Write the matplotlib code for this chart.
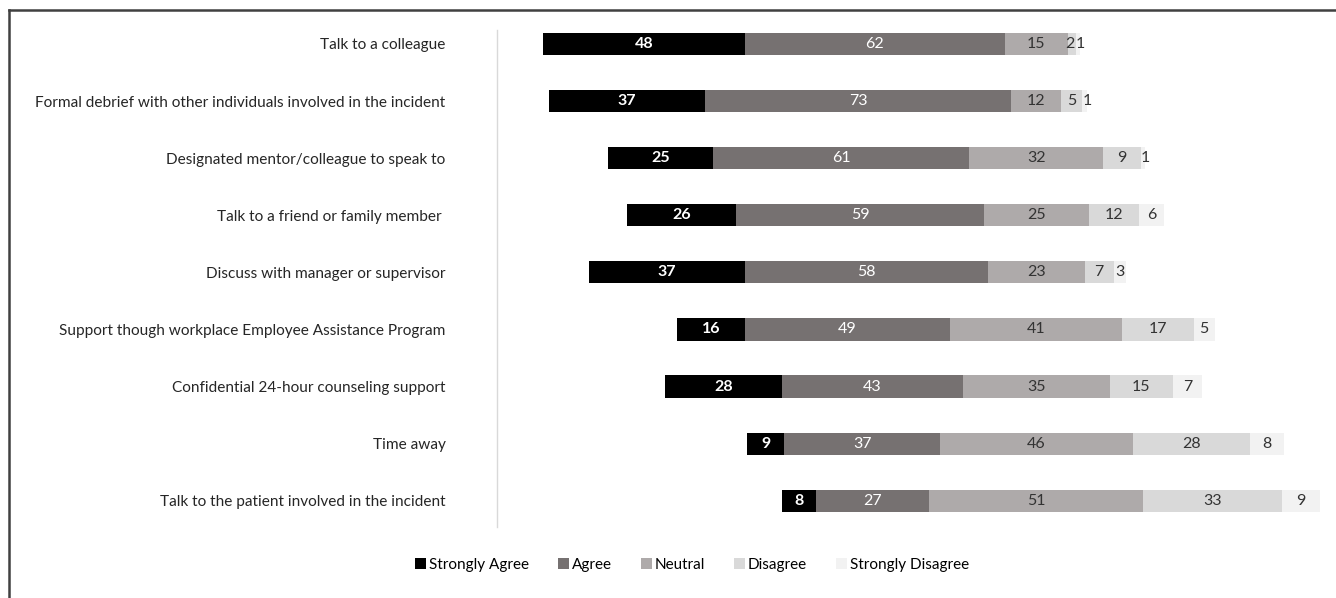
import matplotlib

matplotlib.use("Agg")
import matplotlib.pyplot as plt
from matplotlib.lines import Line2D
import numpy as np

categories = [
    "Talk to a colleague",
    "Formal debrief with other individuals involved in the incident",
    "Designated mentor/colleague to speak to",
    "Talk to a friend or family member ",
    "Discuss with manager or supervisor",
    "Support though workplace Employee Assistance Program",
    "Confidential 24-hour counseling support",
    "Time away",
    "Talk to the patient involved in the incident",
]
strongly_agree = [48, 37, 25, 26, 37, 16, 28, 9, 8]
agree = [62, 73, 61, 59, 58, 49, 43, 37, 27]
neutral = [15, 12, 32, 25, 23, 41, 35, 46, 51]
disagree = [2, 5, 9, 12, 7, 17, 15, 28, 33]
strongly_disagree = [1, 1, 1, 6, 3, 5, 7, 8, 9]

series = [
    ("Strongly Agree", strongly_agree, "#000000", "white"),
    ("Agree", agree, "#767171", "white"),
    ("Neutral", neutral, "#aeaaaa", "#333333"),
    ("Disagree", disagree, "#d9d9d9", "#333333"),
    ("Strongly Disagree", strongly_disagree, "#f2f2f2", "#333333"),
]

plt.rcParams["font.family"] = ["Lato", "DejaVu Sans"]

fig = plt.figure(figsize=(13.36, 5.98), dpi=100)
ax = fig.add_axes([497 / 1336, 71 / 598, (1330 - 497) / 1336, 497 / 598])

y = np.arange(len(categories))
# diverging layout: centre of the neutral segment sits at zero
left = -(np.array(strongly_agree) + np.array(agree) + np.array(neutral) / 2.0)
for si, (name, vals, color, tcolor) in enumerate(series):
    vals = np.array(vals, dtype=float)
    ax.barh(y, vals, left=left, height=0.39, color=color, label=name, edgecolor="none")
    for yi, (l, v) in enumerate(zip(left, vals)):
        xpos = l + v / 2
        # tiny neighbouring segments: nudge labels apart a little
        if v < 3 and si == 3:
            xpos -= 0.5
        elif v < 3 and si == 4:
            xpos += 0.6
        ax.text(xpos, yi, f"{int(v)}", ha="center", va="center",
                color=tcolor, fontsize=11.5,
                fontweight="bold" if color == "#000000" else "normal")
    left = left + vals

ax.set_ylim(8.46, -0.245)
ax.set_xlim(-128.5, 70)
ax.set_yticks(y, categories)
ax.tick_params(axis="y", length=0, pad=37, labelsize=11.1, labelcolor="#262626")
ax.set_xticks([])
for side in ["top", "right", "bottom"]:
    ax.spines[side].set_visible(False)
ax.spines["left"].set_color("#d9d9d9")
ax.spines["left"].set_linewidth(1.0)

fig.legend(loc="center", bbox_to_anchor=(692 / 1336, 1 - 565 / 598), ncol=5,
           frameon=False, fontsize=11, handlelength=0.7, handleheight=0.7,
           handletextpad=0.2, columnspacing=1.9)

# thin frame that shows along the top and left edge of the original
fig.add_artist(Line2D([9 / 1336, 1], [1 - 10 / 598, 1 - 10 / 598], transform=fig.transFigure,
                      color="#404040", lw=1.8))
fig.add_artist(Line2D([9 / 1336, 9 / 1336], [0, 1 - 10 / 598], transform=fig.transFigure,
                      color="#404040", lw=1.8))

fig.savefig("out.png", dpi=100)
